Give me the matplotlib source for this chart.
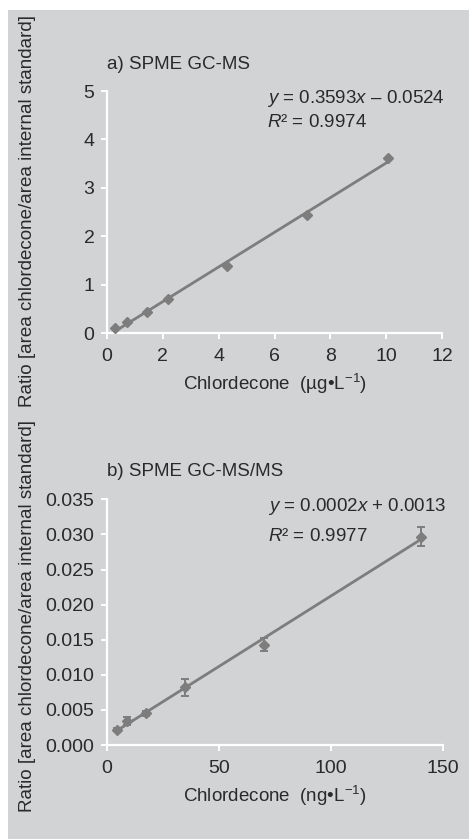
import numpy as np
import matplotlib
matplotlib.use("Agg")
import matplotlib.pyplot as plt
from matplotlib.patches import Rectangle

plt.rcParams['font.family'] = ['Liberation Sans', 'DejaVu Sans']
plt.rcParams['mathtext.fontset'] = 'custom'
plt.rcParams['mathtext.rm'] = 'Liberation Sans'
plt.rcParams['mathtext.it'] = 'Liberation Sans:italic'

# 数据 (a) SPME GC-MS
conc_a = [0.29, 0.72, 1.45, 2.17, 4.31, 7.18, 10.06]
ratio_a = [0.10, 0.23, 0.43, 0.70, 1.38, 2.44, 3.62]

# 数据 (b) SPME GC-MS/MS
conc_b = [4.4, 8.8, 17.5, 35, 70, 140]
ratio_b = [0.0022, 0.0034, 0.0045, 0.0082, 0.0143, 0.0297]
err_b = [0.0002, 0.0006, 0.0004, 0.0012, 0.0009, 0.0013]

xticks_a = [0, 2, 4, 6, 8, 10, 12]
yticks_a = [0, 1, 2, 3, 4, 5]
xticks_b = [0, 50, 100, 150]
yticks_b = [0.000, 0.005, 0.010, 0.015, 0.020, 0.025, 0.030, 0.035]

BG = '#d2d3d5'
GREY = '#7d7d7d'
TXT = '#2a2a2a'
FS = 13.5
ylabel = 'Ratio [area chlordecone/area internal standard]'

fig = plt.figure(figsize=(4.69, 8.39), dpi=100)
fig.patch.set_facecolor('white')
fig.patches.append(Rectangle((8 / 469, 0), 1, 1 - 10 / 839, transform=fig.transFigure,
                             facecolor=BG, edgecolor='none', zorder=-10))


def style_axes(ax):
    ax.set_facecolor('none')
    for s in ['top', 'right']:
        ax.spines[s].set_visible(False)
    for s in ['left', 'bottom']:
        ax.spines[s].set_color('white')
        ax.spines[s].set_linewidth(1.6)
    ax.tick_params(colors='white', width=1.4, length=4, labelcolor=TXT, labelsize=14)
    ax.tick_params(axis='x', pad=7)
    ax.tick_params(axis='y', pad=5)


# 面板 a
ax1 = fig.add_axes([107 / 469, 1 - 333 / 839, 335 / 469, 242 / 839])
style_axes(ax1)
k, b = np.polyfit(conc_a, ratio_a, 1)
xs = np.array([conc_a[0], conc_a[-1]])
ax1.plot(xs, k * xs + b, color=GREY, lw=2, zorder=2)
ax1.plot(conc_a, ratio_a, 'D', color=GREY, ms=5.2, zorder=3)
ax1.set_xlim(0, 12)
ax1.set_ylim(0, 5)
ax1.set_xticks(xticks_a)
ax1.set_yticks(yticks_a)
ax1.set_xlabel(r'Chlordecone  (µg•L$^{-1}$)', fontsize=FS, color=TXT, labelpad=5)
ax1.text(0, 1.11, 'a) SPME GC-MS', transform=ax1.transAxes, fontsize=FS, color=TXT,
         va='center', ha='left')
ax1.text(0.477, 0.97, r'$\mathit{y}$ = 0.3593$\mathit{x}$ – 0.0524', transform=ax1.transAxes,
         fontsize=FS, color=TXT, va='center', ha='left')
ax1.text(0.477, 0.868, r'$\mathit{R}$² = 0.9974', transform=ax1.transAxes,
         fontsize=FS, color=TXT, va='center', ha='left')

# 面板 b
ax2 = fig.add_axes([107 / 469, 1 - 745 / 839, 336 / 469, 245.7 / 839])
style_axes(ax2)
k, b = np.polyfit(conc_b, ratio_b, 1)
xs = np.array([conc_b[0], conc_b[-1]])
ax2.plot(xs, k * xs + b, color=GREY, lw=2, zorder=2)
ax2.errorbar(conc_b, ratio_b, yerr=err_b, fmt='D', color=GREY, ms=5.2, capsize=3,
             elinewidth=1.4, capthick=1.4, zorder=3)
ax2.set_xlim(0, 150)
ax2.set_ylim(0, 0.035)
ax2.set_xticks(xticks_b)
ax2.set_yticks(yticks_b)
ax2.set_yticklabels([f'{v:.3f}' for v in yticks_b])
ax2.set_xlabel(r'Chlordecone  (ng•L$^{-1}$)', fontsize=FS, color=TXT, labelpad=5)
ax2.text(0, 1.112, 'b) SPME GC-MS/MS', transform=ax2.transAxes, fontsize=FS, color=TXT,
         va='center', ha='left')
ax2.text(0.48, 0.97, r'$\mathit{y}$ = 0.0002$\mathit{x}$ + 0.0013', transform=ax2.transAxes,
         fontsize=FS, color=TXT, va='center', ha='left')
ax2.text(0.48, 0.85, r'$\mathit{R}$² = 0.9977', transform=ax2.transAxes,
         fontsize=FS, color=TXT, va='center', ha='left')

# 纵轴标签 (两个面板)
fig.text(28 / 469, 1 - 211 / 839, ylabel, rotation=90, fontsize=FS, color=TXT,
         ha='center', va='center')
fig.text(28 / 469, 1 - 616 / 839, ylabel, rotation=90, fontsize=FS, color=TXT,
         ha='center', va='center')

fig.savefig('out.png', dpi=100)
